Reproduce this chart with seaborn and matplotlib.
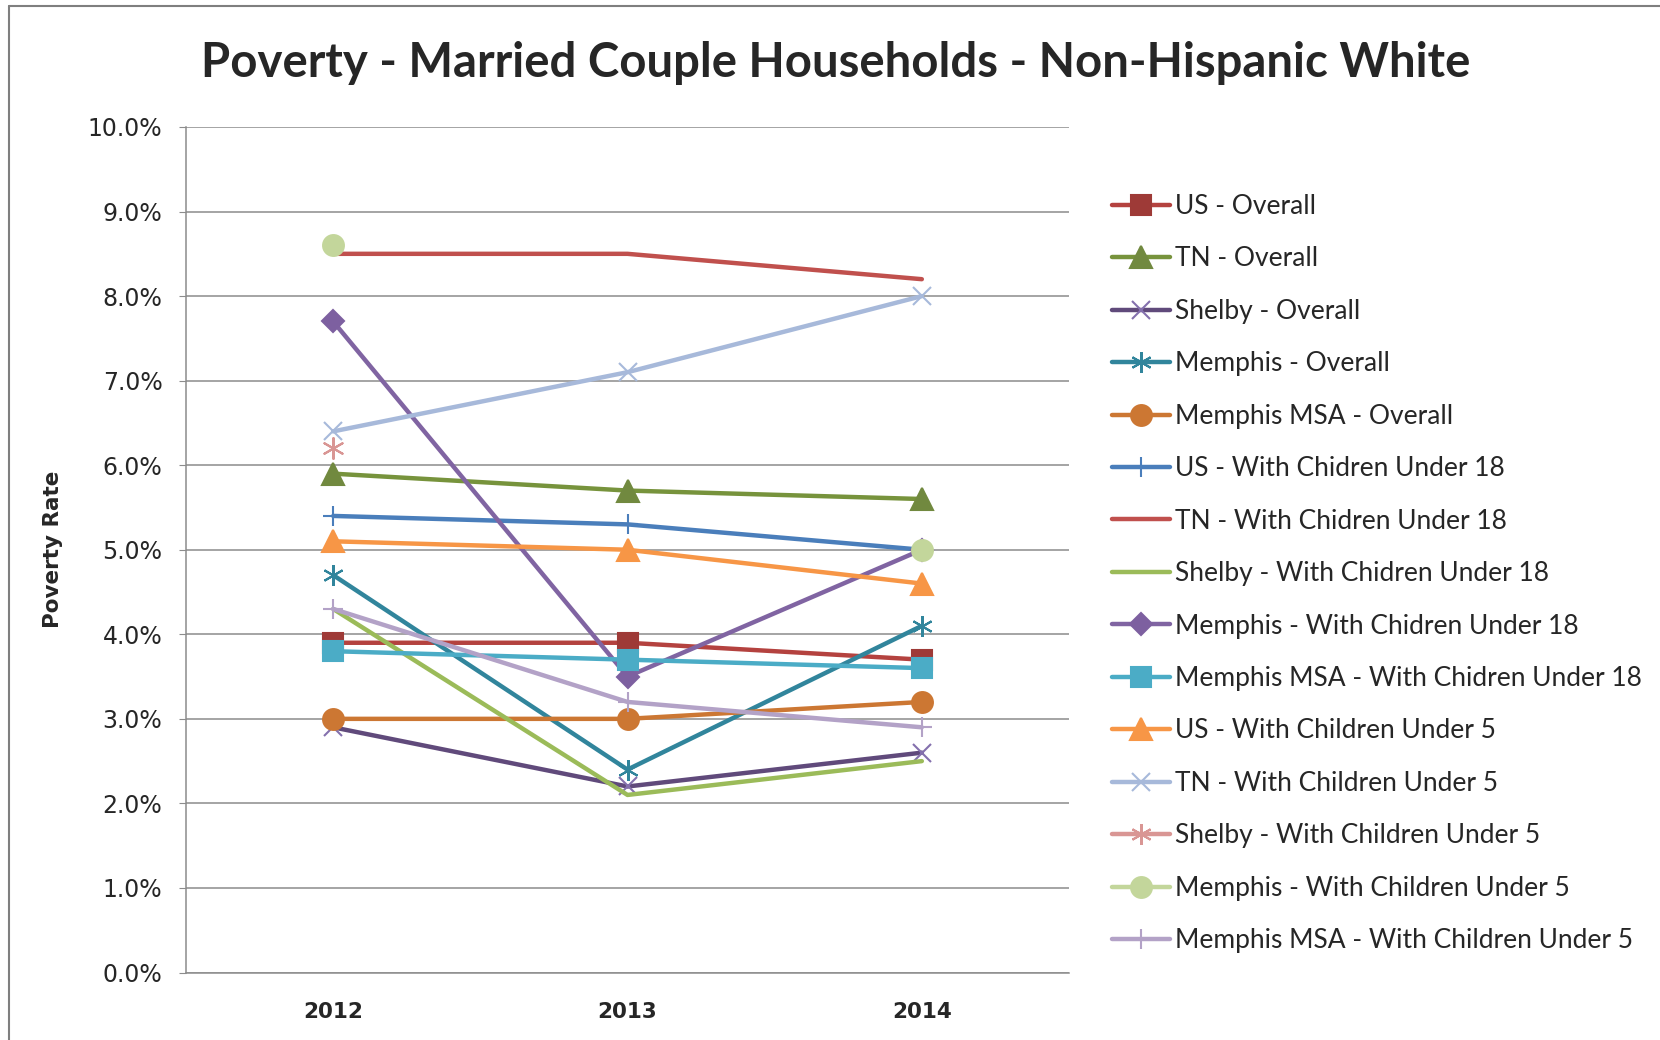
"""
plot.py
Poverty rate, married couple households, non-Hispanic white, 2012-2014.
Output: out.png
"""

import numpy as np
import pandas as pd
import matplotlib
matplotlib.use("Agg")
import matplotlib.pyplot as plt
from matplotlib.lines import Line2D
import seaborn as sns

# ---------------------------------------------------------------------------
# Data (percent)
# ---------------------------------------------------------------------------

years = ["2012", "2013", "2014"]

series_names = [
    "US - Overall",
    "TN - Overall",
    "Shelby - Overall",
    "Memphis - Overall",
    "Memphis MSA - Overall",
    "US - With Chidren Under 18",
    "TN - With Chidren Under 18",
    "Shelby - With Chidren Under 18",
    "Memphis - With Chidren Under 18",
    "Memphis MSA - With Chidren Under 18",
    "US - With Children Under 5",
    "TN - With Children Under 5",
    "Shelby - With Children Under 5",
    "Memphis - With Children Under 5",
    "Memphis MSA - With Children Under 5",
]

us_overall = [3.9, 3.9, 3.7]
tn_overall = [5.9, 5.7, 5.6]
shelby_overall = [2.9, 2.2, 2.6]
memphis_overall = [4.7, 2.4, 4.1]
msa_overall = [3.0, 3.0, 3.2]
us_u18 = [5.4, 5.3, 5.0]
tn_u18 = [8.5, 8.5, 8.2]
shelby_u18 = [4.3, 2.1, 2.5]
memphis_u18 = [7.7, 3.5, 5.0]
msa_u18 = [3.8, 3.7, 3.6]
us_u5 = [5.1, 5.0, 4.6]
tn_u5 = [6.4, 7.1, 8.0]
shelby_u5 = [6.2, np.nan, np.nan]
memphis_u5 = [8.6, np.nan, 5.0]
msa_u5 = [4.3, 3.2, 2.9]

values = [us_overall, tn_overall, shelby_overall, memphis_overall, msa_overall,
          us_u18, tn_u18, shelby_u18, memphis_u18, msa_u18,
          us_u5, tn_u5, shelby_u5, memphis_u5, msa_u5]

# ---------------------------------------------------------------------------
# Styles (line colour, marker colour, marker, marker size)
# ---------------------------------------------------------------------------

ASTERISK = (6, 2, 0)
styles = [
    ("#B4423F", "#9E3A37", "s", 15),
    ("#77933C", "#71893F", "^", 16),
    ("#604A7B", "#8470AD", "x", 13),
    ("#31859C", "#31859C", ASTERISK, 15),
    ("#CC7733", "#CC7733", "o", 15),
    ("#4A7EBB", "#4A7EBB", "+", 15),
    ("#C0504D", "#C0504D", "None", 0),
    ("#9BBB59", "#9BBB59", "None", 0),
    ("#8064A2", "#7D60A0", "D", 11),
    ("#4BACC6", "#4BACC6", "s", 15),
    ("#F79646", "#F79646", "^", 16),
    ("#A7B9DA", "#A7B9DA", "x", 13),
    ("#D99694", "#D99694", ASTERISK, 15),
    ("#C3D69B", "#C3D69B", "o", 15),
    ("#B3A2C7", "#B3A2C7", "+", 15),
]

# ---------------------------------------------------------------------------
# Figure
# ---------------------------------------------------------------------------

sns.set_style("white")
plt.rcParams["font.family"] = ["DejaVu Sans"]

fig = plt.figure(figsize=(16.6, 10.4), dpi=100)
ax = fig.add_axes([186 / 1660, 1 - 972.5 / 1040, 883 / 1660, 845.5 / 1040])

x_pos = np.arange(len(years))
for name, vals, (lc, mc, mk, ms) in zip(series_names, values, styles):
    df = pd.DataFrame({"x": x_pos, "y": vals})
    if np.isnan(vals).sum() > 0:
        # gaps in Excel: markers only, no connecting line
        sns.scatterplot(data=df.dropna(), x="x", y="y", ax=ax, marker=mk,
                        s=ms ** 2, color=mc, edgecolor=mc, linewidth=1.5,
                        zorder=3, legend=False)
        continue
    sns.lineplot(data=df, x="x", y="y", ax=ax, estimator=None, color=lc,
                 linewidth=3.2, marker=mk, markersize=ms, markerfacecolor=mc,
                 markeredgecolor=mc, markeredgewidth=1.5, legend=False,
                 zorder=3)

ax.set_xlim(-0.5, 2.5)
ax.set_ylim(0, 10)
ax.set_yticks(np.arange(0, 10.01, 1))
ax.set_yticklabels([f"{v:.1f}%" for v in np.arange(0, 10.01, 1)],
                   fontsize=17, color="#262626")
ax.set_xticks(x_pos)
ax.set_xticklabels(years, fontsize=15.5, fontweight="bold")
ax.set_xlabel("")
ax.set_ylabel("Poverty Rate", fontsize=15.5, fontweight="bold")
ax.yaxis.set_label_coords(-0.139, 0.5)
ax.grid(axis="y", color="#8C8C8C", linewidth=1.1)
ax.set_axisbelow(True)
for side in ["top", "right"]:
    ax.spines[side].set_visible(False)
for side in ["left", "bottom"]:
    ax.spines[side].set_color("#8C8C8C")
    ax.spines[side].set_linewidth(1.1)
ax.tick_params(axis="y", left=True, length=5, color="#8C8C8C", pad=12)
ax.tick_params(axis="x", bottom=False, pad=18)

fig.suptitle("Poverty - Married Couple Households - Non-Hispanic White",
             x=836 / 1660, y=1 - 63 / 1040, va="center", fontsize=34,
             fontweight="bold", family=["Lato", "DejaVu Sans"])

# -- Legend --
handles = []
for name, (lc, mc, mk, ms) in zip(series_names, styles):
    handles.append(Line2D([], [], color=lc, linewidth=3.2, marker=mk,
                          markersize=ms, markerfacecolor=mc,
                          markeredgecolor=mc, markeredgewidth=1.5))
fig.legend(handles, series_names, loc="upper left",
           bbox_to_anchor=(1112 / 1660, 1 - 194 / 1040), frameon=False,
           prop={"family": ["Lato", "DejaVu Sans"], "size": 19},
           handlelength=2.2, handletextpad=0.2, labelspacing=1.04,
           borderpad=0, borderaxespad=0)

# -- Chart border (left and top edges visible) --
fig.add_artist(Line2D([8.5 / 1660, 8.5 / 1660], [0, 1 - 5.5 / 1040],
                      color="#7F7F7F", linewidth=1.5))
fig.add_artist(Line2D([8.5 / 1660, 1], [1 - 5.5 / 1040, 1 - 5.5 / 1040],
                      color="#7F7F7F", linewidth=1.5))

fig.savefig("out.png", dpi=100)
print("saved out.png")
